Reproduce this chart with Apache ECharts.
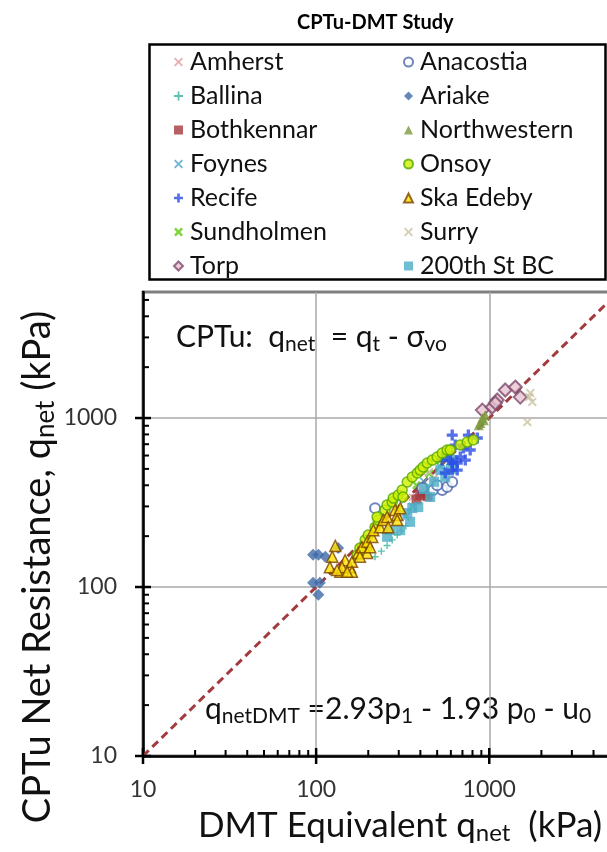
<!DOCTYPE html>
<html><head><meta charset="utf-8">
<script src="https://cdn.jsdelivr.net/npm/echarts@6/dist/echarts.min.js"></script>
<style>html,body{margin:0;padding:0;background:#fff}#c{width:607px;height:852px}</style>
</head><body><div id="c"></div>
<script>
// ---- data (DMT equivalent qnet, CPTu qnet) in kPa ----
const amherst = [[420,470],[360,340],[480,440]];
const ballina = [[257,176],[219,151],[275,190],[294,203],[238,163],[310,215],[330,230]];
const bothkennar = [[399,350],[426,360],[380,330],[440,345],[410,372]];
const foynes = [[300,330],[360,300],[420,420],[330,260],[520,520]];
const recife = [[611,793],[571,621],[611,542],[653,492],[535,564],[757,793],[853,762],[680,588],[595,564],[727,564],[557,473],[611,492],[653,542],[708,664],[776,647],[636,692]];
const sundholmen = [[380,400],[450,470],[520,560],[300,290]];
const torp = [[912,1114],[1040,1162],[1112,1279],[1236,1465],[1414,1525],[1510,1330],[1084,1227]];
const anacostia = [[219,293],[410,385],[474,375],[535,375],[571,391],[611,418],[500,400]];
const ariake = [[96,155],[103,155],[113,151],[96,106],[105,106],[103,90],[134,170]];
const northwestern = [[912,1000],[948,1042],[888,934],[930,970],[870,905]];
const onsoy = [[173,155],[179,170],[192,190],[200,203],[219,226],[228,249],[250,286],[257,306],[275,318],[279,336],[298,350],[314,375],[336,418],[359,448],[384,473],[399,492],[415,513],[438,542],[469,564],[500,588],[535,621],[571,647],[595,647],[680,692],[746,721],[809,741],[225,260],[197,172],[318,341]];
const skaEdeby = [[129,175],[124,151],[120,131],[138,123],[147,144],[157,131],[161,141],[161,123],[141,131],[175,159],[184,172],[197,159],[197,185],[211,198],[214,217],[234,226],[244,249],[257,260],[286,286],[294,267],[294,249],[306,293],[261,226],[205,172],[179,151],[151,123],[132,126]];
const surry = [[1727,1406],[1773,1245],[1660,947],[1700,1330],[450,480]];
const bc200 = [[359,293],[336,274],[349,243],[306,217],[389,297],[456,341],[521,492],[557,448],[620,564],[571,588],[268,217],[257,198],[420,380],[480,420],[600,500]];
const oneToOne = [[10,10],[6000,6000]];

const xTickLabels = [10, 100, 1000];
const yTickLabels = [10, 100, 1000];
const minorTicks = [20,30,40,50,60,70,80,90,200,300,400,500,600,700,800,900,2000,3000,4000,5000];
const majorTicks = [10,100,1000];

const FONT = 'Lato';
const X = 'path://M2,0 L5,3 L8,0 L10,2 L7,5 L10,8 L8,10 L5,7 L2,10 L0,8 L3,5 L0,2 Z';
const XT = 'path://M1.5,0 L5,3.5 L8.5,0 L10,1.5 L6.5,5 L10,8.5 L8.5,10 L5,6.5 L1.5,10 L0,8.5 L3.5,5 L0,1.5 Z';
const PLUS = 'path://M3.5,0 H6.5 V3.5 H10 V6.5 H6.5 V10 H3.5 V6.5 H0 V3.5 H3.5 Z';
const PLUST = 'path://M4,0 H6 V4 H10 V6 H6 V10 H4 V6 H0 V4 H4 Z';

function sc(name, data, symbol, size, style, z) {
  return {type:'scatter', name, data, symbol, symbolSize:size, itemStyle:style, z:z||3, silent:true};
}
const series = [
  sc('Amherst', amherst, XT, 8, {color:'#E39A9E'}),
  sc('Ballina', ballina, PLUST, 7, {color:'#2FB49A'}),
  sc('Bothkennar', bothkennar, 'rect', 10, {color:'#A3383C'}),
  sc('Foynes', foynes, XT, 9, {color:'#4CA6C8'}),
  sc('Recife', recife, PLUS, 11, {color:'#2A4CE6'}, 4),
  sc('Sundholmen', sundholmen, X, 9, {color:'#5DCB0A'}),
  sc('Torp', torp, 'diamond', 13, {color:'#E7C3CF', borderColor:'#7D4A6C', borderWidth:2}),
  sc('Anacostia', anacostia, 'circle', 10, {color:'#ffffff', borderColor:'#4A66AE', borderWidth:2}),
  sc('Ariake', ariake, 'diamond', 12, {color:'#3E6AAA'}),
  sc('Northwestern', northwestern, 'triangle', 10, {color:'#7C9A3C'}),
  sc('Onsoy', onsoy, 'circle', 10, {color:'#CFF000', borderColor:'#55A800', borderWidth:1.5}, 5),
  sc('Ska Edeby', skaEdeby, 'triangle', 11, {color:'#FFE200', borderColor:'#7A4200', borderWidth:1.5}, 5),
  sc('Surry', surry, XT, 9, {color:'#C9C29F'}),
  sc('200th St BC', bc200, 'rect', 10, {color:'#4BACC6'}),
  {type:'line', name:'1:1', data:oneToOne, symbol:'none', silent:true, z:2,
   lineStyle:{color:'#A33B3E', width:3, type:[8,5]}},
  {type:'custom', silent:true, clip:false, z:10,
   data: majorTicks.concat(minorTicks).map(v=>[v,10]),
   renderItem(params, api){
     const v = api.value(0); const major = majorTicks.indexOf(v) >= 0;
     const p = api.coord([v, 10]);
     const q = api.coord([10, v]);
     const out = major ? 8 : 0, inn = major ? 8 : 6;
     const st = {stroke:'#000', lineWidth: major?2.5:2};
     const children = [];
     children.push({type:'line', shape:{x1:p[0], y1:p[1]+out, x2:p[0], y2:p[1]-inn}, style:st});
     if (v <= 5570) children.push({type:'line', shape:{x1:q[0]-out, y1:q[1], x2:q[0]+inn, y2:q[1]}, style:st});
     return {type:'group', children};
   }}
];

const legendNames1 = ['Amherst','Ballina','Bothkennar','Foynes','Recife','Sundholmen','Torp'];
const legendNames2 = ['Anacostia','Ariake','Northwestern','Onsoy','Ska Edeby','Surry','200th St BC'];
const legendCommon = {orient:'vertical', top:44, itemWidth:9, itemHeight:9, itemGap:8,
  selectedMode:false, textStyle:{fontFamily:FONT, fontSize:25, color:'#111', lineHeight:26, padding:[0,0,0,2]}};

const chart = echarts.init(document.getElementById('c'), null, {renderer:'canvas'});
const axisCommon = {
  type:'log', logBase:10, min:10,
  axisLine:{show:true, lineStyle:{color:'#000', width:2.5}},
  axisTick:{show:false},
  minorTick:{show:false},
  splitLine:{show:true, lineStyle:{color:'#A8A8A8', width:1.5}}
};
const subRich = {s:{fontFamily:FONT, fontSize:24, fill:'#111', padding:[14,0,0,0]}};
chart.setOption({
  animation:false,
  backgroundColor:'#fff',
  grid:{left:143, top:292, width:481, height:464, outerBoundsMode:'none', containLabel:false,
    show:true, borderColor:'#000', borderWidth:2.5, backgroundColor:'transparent'},
  xAxis: Object.assign({}, axisCommon, {max:6000,
    axisLabel:{fontFamily:FONT, fontSize:23, color:'#333', margin:22,
      formatter:v => xTickLabels.indexOf(Math.round(v))>=0 ? String(Math.round(v)) : ''}
  }),
  yAxis: Object.assign({}, axisCommon, {max:5570,
    axisLabel:{fontFamily:FONT, fontSize:23, color:'#333', margin:26,
      formatter:v => yTickLabels.indexOf(Math.round(v))>=0 ? String(Math.round(v)) : ''}
  }),
  legend:[
    Object.assign({}, legendCommon, {left:168, data:legendNames1}),
    Object.assign({}, legendCommon, {left:398, data:legendNames2})
  ],
  graphic:[
    {type:'rect', left:147, top:42, shape:{width:456, height:235}, style:{fill:'none', stroke:'#000', lineWidth:2.5}, z:100},
    {type:'text', left:297, top:13, style:{text:'CPTu-DMT Study', font:'bold 20px Lato', fill:'#000'}},
    {type:'text', x:400, y:826, style:{text:'DMT Equivalent q{s|net}  (kPa)', font:'35px Lato', fill:'#111',
      align:'center', verticalAlign:'middle', rich:subRich}},
    {type:'text', x:38, y:567, rotation:Math.PI/2, style:{text:'CPTu Net Resistance, q{s|net} (kPa)', font:'38px Lato', fill:'#111',
      align:'center', verticalAlign:'middle', rich:{s:{fontFamily:FONT, fontSize:26, fill:'#111', padding:[15,0,0,0]}}}},
    {type:'text', left:176, top:322, style:{
      text:'CPTu:  q{s|net}  = q{s|t} - σ{s|vo}', fill:'#111', font:'30px Lato',
      rich:{s:{fontFamily:FONT, fontSize:21, fill:'#111', padding:[14,0,0,0]}}}},
    {type:'text', left:205, top:694, style:{
      text:'q{s|netDMT} =2.93p{s|1} - 1.93 p{s|0} - u{s|0}', fill:'#111', font:'30px Lato',
      rich:{s:{fontFamily:FONT, fontSize:21, fill:'#111', padding:[14,0,0,0]}}}}
  ],
  series
});
</script></body></html>
